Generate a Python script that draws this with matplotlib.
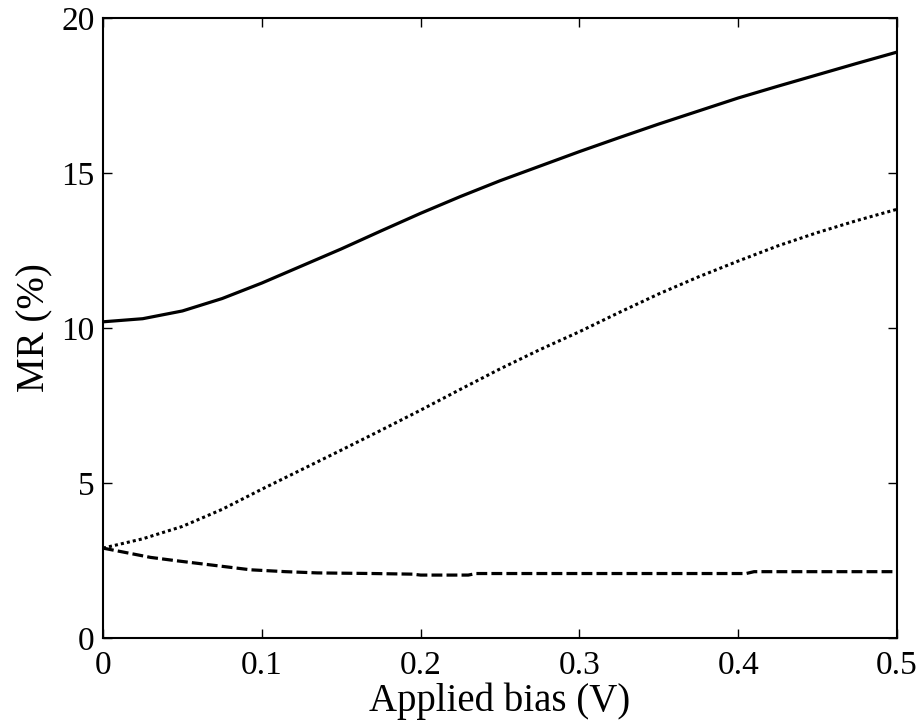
import matplotlib
matplotlib.use("Agg")
import matplotlib.pyplot as plt

# bias (V), every 0.025 V
bias = [0.0, 0.025, 0.05, 0.075, 0.1, 0.125, 0.15, 0.175, 0.2, 0.225, 0.25,
        0.275, 0.3, 0.325, 0.35, 0.375, 0.4, 0.425, 0.45, 0.475, 0.5]

mr_solid = [10.2, 10.3, 10.55, 10.95, 11.45, 12.0, 12.55, 13.13, 13.7, 14.24, 14.75,
            15.22, 15.69, 16.14, 16.58, 17.0, 17.42, 17.8, 18.17, 18.54, 18.9]
mr_dotted = [2.9, 3.2, 3.6, 4.15, 4.8, 5.43, 6.06, 6.7, 7.35, 8.02, 8.68,
             9.3, 9.88, 10.5, 11.1, 11.65, 12.16, 12.65, 13.08, 13.47, 13.83]

# dashed curve has small steps, so it gets its own bias points
bias_dashed = [0.0, 0.015, 0.03, 0.045, 0.061, 0.077, 0.093, 0.115, 0.135, 0.17,
               0.195, 0.2, 0.23, 0.235, 0.3, 0.405, 0.41, 0.5]
mr_dashed = [2.9, 2.75, 2.6, 2.5, 2.4, 2.3, 2.2, 2.14, 2.1, 2.08,
             2.06, 2.03, 2.03, 2.08, 2.08, 2.08, 2.14, 2.14]

xticks = [0, 0.1, 0.2, 0.3, 0.4, 0.5]
xtick_labels = ["0", "0.1", "0.2", "0.3", "0.4", "0.5"]
yticks = [0, 5, 10, 15, 20]

plt.rcParams['font.family'] = ['Liberation Serif', 'DejaVu Serif']

fig = plt.figure(figsize=(9.23, 7.26), dpi=100)
ax = fig.add_axes([0.1116, 0.1212, 0.8602, 0.854])

ax.plot(bias, mr_solid, color='black', lw=2.3)
ax.plot(bias, mr_dotted, color='black', lw=2.2, dashes=(1, 1))
ax.plot(bias_dashed, mr_dashed, color='black', lw=2.3, dashes=(3.4, 1.3))

ax.set_xlim(0, 0.5)
ax.set_ylim(0, 20)
ax.set_xticks(xticks)
ax.set_xticklabels(xtick_labels)
ax.set_yticks(yticks)
ax.tick_params(direction='in', length=6.5, width=1, labelsize=24,
               top=True, right=True)
ax.tick_params(axis='x', pad=9)
ax.tick_params(axis='y', pad=6)
for s in ax.spines.values():
    s.set_linewidth(1.5)

ax.set_xlabel("Applied bias (V)", fontsize=28, labelpad=1)
ax.set_ylabel("MR (%)", fontsize=28, labelpad=6)

fig.savefig("out.png", dpi=100)
